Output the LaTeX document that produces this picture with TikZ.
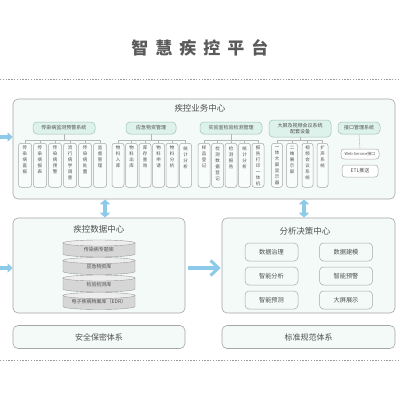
\documentclass[tikz,border=0pt]{standalone}
\usepackage{fontspec}
\setmainfont{Noto Sans CJK SC}
\usetikzlibrary{arrows.meta}
\definecolor{textgray}{HTML}{505050}
\definecolor{titlegray}{HTML}{5A5A5A}
\definecolor{panelfill}{HTML}{F3FAF8}
\definecolor{panelborder}{HTML}{A6A6A6}
\definecolor{hdrfill}{HTML}{DDF2EA}
\definecolor{hdrborder}{HTML}{9FC2B5}
\definecolor{leafborder}{HTML}{A8A8A8}
\definecolor{leaffill}{HTML}{F8FCFB}
\definecolor{conngray}{HTML}{B5B5B5}
\definecolor{arrowblue}{HTML}{8DC9E8}
\definecolor{cylbody}{HTML}{D6D6D6}
\definecolor{cyltop}{HTML}{EDEDED}
\definecolor{cylborder}{HTML}{9A9A9A}
\definecolor{dotgray}{HTML}{9A9A9A}
\begin{document}
\begin{tikzpicture}[x=1pt,y=-1pt,
  panel/.style={draw=panelborder, fill=panelfill, rounded corners=5pt, line width=0.6pt, inner sep=0pt},
  paneltitle/.style={font=\fontsize{8.5}{10}\selectfont, text=textgray, inner sep=0pt},
  hdr/.style={draw=hdrborder, fill=hdrfill, rounded corners=4pt, line width=0.5pt, font=\fontsize{5}{6}\selectfont, text=textgray, inner sep=0pt, align=center},
  leaf/.style={draw=leafborder, fill=leaffill, rounded corners=2.5pt, line width=0.5pt, minimum height=44pt, inner sep=0pt, anchor=north},
  vtext/.style={font=\fontsize{4.5}{6}\selectfont, text=textgray, align=center, anchor=north, inner sep=0pt},
  conn/.style={draw=conngray, line width=0.4pt},
  sbox/.style={draw=leafborder, fill=white, rounded corners=3pt, line width=0.5pt, text=textgray, inner sep=0pt},
  btn/.style={draw=leafborder, fill=panelfill, rounded corners=4pt, line width=0.5pt, minimum width=53pt, minimum height=18pt, font=\fontsize{6.2}{7}\selectfont, text=textgray, inner sep=0pt},
  dotline/.style={draw=dotgray, line width=0.8pt, dash pattern=on 1.4pt off 1.4pt},
  inarrow/.style={draw=arrowblue, line width=3.5pt, -{Triangle[width=9pt,length=5pt]}},
  dblarrow/.style={draw=arrowblue, line width=3.5pt, {Triangle[width=10pt,length=5pt]}-{Triangle[width=10pt,length=5pt]}},
  midarrow/.style={draw=arrowblue, line width=4pt, -{Straight Barb[width=15pt,length=8pt,line width=3pt]}},
  cyllabel/.style={font=\fontsize{5}{6}\selectfont, text=textgray, inner sep=0pt}
]
\useasboundingbox (0,0) rectangle (400,400);
\fill[white] (0,0) rectangle (400,400);

% title and dotted rules
\node[font=\fontsize{17}{20}\selectfont\bfseries, text=titlegray, inner sep=0pt] (title) at (200,48)
  {智\hspace{7pt}慧\hspace{7pt}疾\hspace{7pt}控\hspace{7pt}平\hspace{7pt}台};
\coordinate (dla) at (0,79); \coordinate (dlb) at (400,79);
\draw[dotline] (dla) -- (dlb);
\coordinate (dlc) at (0,360); \coordinate (dld) at (400,360);
\draw[dotline] (dlc) -- (dld);

% top panel
\node[panel, minimum width=382pt, minimum height=100pt] (biz) at (204,149) {};
\node[paneltitle] (biztitle) at (200,108) {疾控业务中心};

% headers
\node[hdr, minimum width=62pt, minimum height=12pt] (h1) at (64,128) {传染病监测预警系统};
\node[hdr, minimum width=50pt, minimum height=12pt] (h2) at (151,128) {应急物资管理};
\node[hdr, minimum width=62pt, minimum height=12pt] (h3) at (231,128) {实验室检验检测管理};
\node[hdr, minimum width=62pt, minimum height=17pt] (h4) at (300,128.5) {大屏及视频会议系统\\配套设备};
\node[hdr, minimum width=42pt, minimum height=12pt] (h5) at (359,128) {接口管理系统};

% leaves group 1
\foreach \nm/\x/\t in {
  ga/25/{传\\染\\病\\直\\报},
  gb/40/{传\\染\\病\\报\\表},
  gc/55/{传\\染\\病\\预\\警},
  gd/70/{流\\行\\病\\学\\调\\查},
  ge/85/{传\\染\\病\\处\\置},
  gf/100/{监\\督\\管\\理}}{
  \node[leaf, minimum width=13pt] (\nm) at (\x,143) {};
  \node[vtext] (\nm t) at ([yshift=-3pt]\nm.north) {\t};
}
% leaves group 2
\foreach \nm/\x/\t in {
  ka/118/{物\\料\\入\\库},
  kb/131.5/{物\\料\\出\\库},
  kc/145/{库\\存\\查\\询},
  kd/158.5/{物\\料\\申\\请},
  ke/172/{物\\料\\分\\析},
  kf/185.5/{统\\计\\分\\析}}{
  \node[leaf, minimum width=12pt] (\nm) at (\x,143) {};
  \node[vtext] (\nm t) at ([yshift=-3pt]\nm.north) {\t};
}
% leaves group 3
\foreach \nm/\x/\t in {
  la/204/{样\\品\\登\\记},
  lb/217.5/{检\\测\\数\\据\\登\\记},
  lc/231/{检\\测\\报\\告},
  ld/244.5/{统\\计\\分\\析},
  le/258/{报\\告\\打\\印\\一\\体\\机}}{
  \node[leaf, minimum width=12pt] (\nm) at (\x,143) {};
  \node[vtext] (\nm t) at ([yshift=-3pt]\nm.north) {\t};
}
% leaves group 4
\foreach \nm/\x/\t in {
  ma/277/{一\\体\\大\\屏\\显\\示\\器},
  mb/292/{二\\维\\展\\示\\屏},
  mc/307.5/{视\\频\\会\\议\\系\\统},
  md/322.5/{扩\\声\\系\\统}}{
  \node[leaf, minimum width=11pt] (\nm) at (\x,143) {};
  \node[vtext] (\nm t) at ([yshift=-3pt]\nm.north) {\t};
}

% bracket connectors
\coordinate (b1) at (64,140);
\draw[conn] (h1.south) -- (h1.south |- b1);
\draw[conn] (ga.north |- b1) -- (gf.north |- b1);
\foreach \nm in {ga,gb,gc,gd,ge,gf}{\draw[conn] (\nm.north |- b1) -- (\nm.north);}
\draw[conn] (h2.south) -- (h2.south |- b1);
\draw[conn] (ka.north |- b1) -- (kf.north |- b1);
\foreach \nm in {ka,kb,kc,kd,ke,kf}{\draw[conn] (\nm.north |- b1) -- (\nm.north);}
\draw[conn] (h3.south) -- (h3.south |- b1);
\draw[conn] (la.north |- b1) -- (le.north |- b1);
\foreach \nm in {la,lb,lc,ld,le}{\draw[conn] (\nm.north |- b1) -- (\nm.north);}
\draw[conn] (h4.south) -- (h4.south |- b1);
\draw[conn] (ma.north |- b1) -- (md.north |- b1);
\foreach \nm in {ma,mb,mc,md}{\draw[conn] (\nm.north |- b1) -- (\nm.north);}

% interface boxes
\node[sbox, minimum width=38pt, minimum height=10pt, font=\fontsize{4}{5}\selectfont] (web) at (360,154) {Web Service接口};
\node[sbox, minimum width=36pt, minimum height=12pt, font=\fontsize{5}{6}\selectfont] (etl) at (360,171) {ETL推送};
\draw[conn] (h5.south) -- (web.north);

% left input arrows
\coordinate (ia1) at (0,137); \coordinate (ia2) at (0,268);
\draw[inarrow] (ia1) -- (biz.west |- ia1);

% data center panel
\node[panel, minimum width=172pt, minimum height=95pt] (dc) at (99,265.5) {};
\node[paneltitle] (dctitle) at (99,229) {疾控数据中心};
\draw[inarrow] (ia2) -- (dc.west |- ia2);

% cylinders
\foreach \nm/\cy/\t in {
  cya/249/{传染病专题库},
  cyb/266.5/{应急物资库},
  cyc/284/{检验检测库},
  cyd/301.5/{电子疾病档案库（EDR）}}{
  \filldraw[fill=cylbody, draw=cylborder, line width=0.4pt]
    (63,\cy-6) -- (63,\cy+5) arc[start angle=180, end angle=0, x radius=36, y radius=3] -- (135,\cy-6) -- cycle;
  \filldraw[fill=cyltop, draw=cylborder, line width=0.4pt] (99,\cy-6) ellipse[x radius=36, y radius=3];
  \node[cyllabel] (\nm) at (99,\cy+0.5) {\t};
}

% analysis panel
\node[panel, minimum width=173pt, minimum height=95pt] (an) at (308.5,265.5) {};
\node[paneltitle] (antitle) at (305,231) {分析决策中心};
\node[btn] (p1) at (271.5,252) {数据治理};
\node[btn] (p2) at (346,252) {数据建模};
\node[btn] (p3) at (271.5,276) {智能分析};
\node[btn] (p4) at (346,276) {智能预警};
\node[btn] (p5) at (271.5,300) {智能预测};
\node[btn] (p6) at (346,300) {大屏展示};

% arrows between panels
\coordinate (m1) at (188,268);
\draw[midarrow] (m1) -- ([xshift=-1pt]an.west |- m1);
\coordinate (d1) at (105,0); \coordinate (d2) at (304,0);
\draw[dblarrow] (biz.south -| d1) -- (dc.north -| d1);
\draw[dblarrow] (biz.south -| d2) -- (an.north -| d2);

% bottom panels
\node[panel, minimum width=172pt, minimum height=23pt, font=\fontsize{8}{9}\selectfont, text=textgray] (sec) at (99,337) {安全保密体系};
\node[panel, minimum width=173pt, minimum height=23pt, font=\fontsize{8}{9}\selectfont, text=textgray] (std) at (308.5,337) {标准规范体系};
\end{tikzpicture}
\end{document}
